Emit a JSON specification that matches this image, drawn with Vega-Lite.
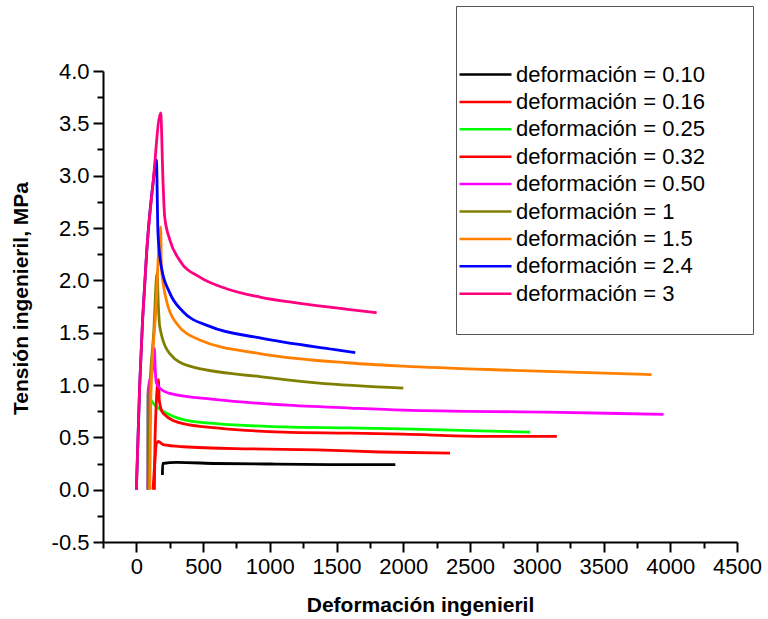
{
  "$schema": "https://vega.github.io/schema/vega-lite/v6.json",
  "width": 634,
  "height": 471,
  "autosize": {"type": "none"},
  "padding": {"left": 103, "top": 71, "right": 31, "bottom": 77},
  "background": "white",
  "config": {
    "view": {"stroke": null},
    "font": "Liberation Sans"
  },
  "data": {
    "values": [
      {"s": "deformación = 0.10", "x": 195, "y": 0.14},
      {"s": "deformación = 0.10", "x": 197, "y": 0.25},
      {"s": "deformación = 0.10", "x": 300, "y": 0.26},
      {"s": "deformación = 0.10", "x": 600, "y": 0.25},
      {"s": "deformación = 0.10", "x": 1000, "y": 0.245},
      {"s": "deformación = 0.10", "x": 1500, "y": 0.24},
      {"s": "deformación = 0.10", "x": 1940, "y": 0.24},

      {"s": "deformación = 0.16", "x": 125, "y": 0.0},
      {"s": "deformación = 0.16", "x": 140, "y": 0.3},
      {"s": "deformación = 0.16", "x": 150, "y": 0.44},
      {"s": "deformación = 0.16", "x": 165, "y": 0.46},
      {"s": "deformación = 0.16", "x": 200, "y": 0.43},
      {"s": "deformación = 0.16", "x": 350, "y": 0.41},
      {"s": "deformación = 0.16", "x": 850, "y": 0.39},
      {"s": "deformación = 0.16", "x": 1350, "y": 0.38},
      {"s": "deformación = 0.16", "x": 1825, "y": 0.36},
      {"s": "deformación = 0.16", "x": 2350, "y": 0.35},

      {"s": "deformación = 0.25", "x": 85, "y": 0.0},
      {"s": "deformación = 0.25", "x": 87, "y": 0.92},
      {"s": "deformación = 0.25", "x": 100, "y": 0.88},
      {"s": "deformación = 0.25", "x": 130, "y": 0.82},
      {"s": "deformación = 0.25", "x": 200, "y": 0.75},
      {"s": "deformación = 0.25", "x": 350, "y": 0.67},
      {"s": "deformación = 0.25", "x": 600, "y": 0.63},
      {"s": "deformación = 0.25", "x": 1100, "y": 0.6},
      {"s": "deformación = 0.25", "x": 1600, "y": 0.59},
      {"s": "deformación = 0.25", "x": 2000, "y": 0.58},
      {"s": "deformación = 0.25", "x": 2950, "y": 0.55},

      {"s": "deformación = 0.32", "x": 135, "y": 0.0},
      {"s": "deformación = 0.32", "x": 140, "y": 0.5},
      {"s": "deformación = 0.32", "x": 165, "y": 1.05},
      {"s": "deformación = 0.32", "x": 172, "y": 0.85},
      {"s": "deformación = 0.32", "x": 200, "y": 0.73},
      {"s": "deformación = 0.32", "x": 350, "y": 0.63},
      {"s": "deformación = 0.32", "x": 600, "y": 0.59},
      {"s": "deformación = 0.32", "x": 1100, "y": 0.55},
      {"s": "deformación = 0.32", "x": 1600, "y": 0.54},
      {"s": "deformación = 0.32", "x": 2000, "y": 0.53},
      {"s": "deformación = 0.32", "x": 2575, "y": 0.51},
      {"s": "deformación = 0.32", "x": 3150, "y": 0.51},

      {"s": "deformación = 0.50", "x": 86, "y": 0.0},
      {"s": "deformación = 0.50", "x": 88, "y": 0.94},
      {"s": "deformación = 0.50", "x": 125, "y": 1.2},
      {"s": "deformación = 0.50", "x": 135, "y": 1.35},
      {"s": "deformación = 0.50", "x": 140, "y": 1.18},
      {"s": "deformación = 0.50", "x": 150, "y": 1.02},
      {"s": "deformación = 0.50", "x": 175, "y": 0.97},
      {"s": "deformación = 0.50", "x": 250, "y": 0.92},
      {"s": "deformación = 0.50", "x": 600, "y": 0.86},
      {"s": "deformación = 0.50", "x": 1100, "y": 0.81},
      {"s": "deformación = 0.50", "x": 1600, "y": 0.78},
      {"s": "deformación = 0.50", "x": 2000, "y": 0.76},
      {"s": "deformación = 0.50", "x": 3075, "y": 0.74},
      {"s": "deformación = 0.50", "x": 3950, "y": 0.72},

      {"s": "deformación = 1", "x": 95, "y": 0.0},
      {"s": "deformación = 1", "x": 100, "y": 0.9},
      {"s": "deformación = 1", "x": 130, "y": 1.5},
      {"s": "deformación = 1", "x": 155, "y": 2.07},
      {"s": "deformación = 1", "x": 165, "y": 1.75},
      {"s": "deformación = 1", "x": 175, "y": 1.56},
      {"s": "deformación = 1", "x": 250, "y": 1.3},
      {"s": "deformación = 1", "x": 400, "y": 1.18},
      {"s": "deformación = 1", "x": 925, "y": 1.08},
      {"s": "deformación = 1", "x": 1350, "y": 1.02},
      {"s": "deformación = 1", "x": 2000, "y": 0.97},

      {"s": "deformación = 1.5", "x": 100, "y": 0.0},
      {"s": "deformación = 1.5", "x": 108, "y": 0.86},
      {"s": "deformación = 1.5", "x": 145, "y": 1.7},
      {"s": "deformación = 1.5", "x": 182, "y": 2.51},
      {"s": "deformación = 1.5", "x": 187, "y": 2.13},
      {"s": "deformación = 1.5", "x": 225, "y": 1.81},
      {"s": "deformación = 1.5", "x": 300, "y": 1.59},
      {"s": "deformación = 1.5", "x": 475, "y": 1.43},
      {"s": "deformación = 1.5", "x": 925, "y": 1.3},
      {"s": "deformación = 1.5", "x": 1600, "y": 1.21},
      {"s": "deformación = 1.5", "x": 2000, "y": 1.18},
      {"s": "deformación = 1.5", "x": 2825, "y": 1.14},
      {"s": "deformación = 1.5", "x": 3860, "y": 1.1},

      {"s": "deformación = 2.4", "x": 0, "y": 0.0},
      {"s": "deformación = 2.4", "x": 25, "y": 1.0},
      {"s": "deformación = 2.4", "x": 80, "y": 2.32},
      {"s": "deformación = 2.4", "x": 125, "y": 2.93},
      {"s": "deformación = 2.4", "x": 150, "y": 3.15},
      {"s": "deformación = 2.4", "x": 162, "y": 2.45},
      {"s": "deformación = 2.4", "x": 187, "y": 2.13},
      {"s": "deformación = 2.4", "x": 250, "y": 1.88},
      {"s": "deformación = 2.4", "x": 350, "y": 1.7},
      {"s": "deformación = 2.4", "x": 550, "y": 1.56},
      {"s": "deformación = 2.4", "x": 925, "y": 1.45},
      {"s": "deformación = 2.4", "x": 1475, "y": 1.34},
      {"s": "deformación = 2.4", "x": 1640, "y": 1.31},

      {"s": "deformación = 3", "x": 0, "y": 0.0},
      {"s": "deformación = 3", "x": 25, "y": 1.0},
      {"s": "deformación = 3", "x": 80, "y": 2.32},
      {"s": "deformación = 3", "x": 125, "y": 2.93},
      {"s": "deformación = 3", "x": 182, "y": 3.6},
      {"s": "deformación = 3", "x": 200, "y": 2.93},
      {"s": "deformación = 3", "x": 212, "y": 2.61},
      {"s": "deformación = 3", "x": 250, "y": 2.39},
      {"s": "deformación = 3", "x": 325, "y": 2.19},
      {"s": "deformación = 3", "x": 475, "y": 2.03},
      {"s": "deformación = 3", "x": 675, "y": 1.92},
      {"s": "deformación = 3", "x": 925, "y": 1.84},
      {"s": "deformación = 3", "x": 1225, "y": 1.78},
      {"s": "deformación = 3", "x": 1600, "y": 1.72},
      {"s": "deformación = 3", "x": 1800, "y": 1.69}
    ]
  },
  "mark": {"type": "line", "strokeWidth": 2.8, "interpolate": "monotone"},
  "encoding": {
    "x": {
      "field": "x",
      "type": "quantitative",
      "scale": {"domain": [-250, 4500], "nice": false, "zero": false},
      "axis": {
        "title": "Deformación ingenieril",
        "titleFont": "Liberation Sans",
        "titleFontWeight": "bold",
        "titleFontSize": 21,
        "titleColor": "black",
        "titleBaseline": "top",
        "titleY": 52,
        "values": [-250, 0, 250, 500, 750, 1000, 1250, 1500, 1750, 2000, 2250, 2500, 2750, 3000, 3250, 3500, 3750, 4000, 4250, 4500],
        "labelExpr": "datum.value % 500 == 0 ? format(datum.value, 'd') : ''",
        "labelFontSize": 22,
        "labelColor": "black",
        "labelPadding": 4,
        "labelFlush": false,
        "labelOverlap": false,
        "grid": false,
        "domainColor": "black",
        "domainWidth": 2,
        "tickColor": "black",
        "tickWidth": 2,
        "tickSize": {"condition": {"test": "datum.value % 500 == 0", "value": 10}, "value": 6}
      }
    },
    "y": {
      "field": "y",
      "type": "quantitative",
      "scale": {"domain": [-0.5, 4.0], "nice": false, "zero": false},
      "axis": {
        "title": "Tensión ingenieril, MPa",
        "titleFont": "Liberation Sans",
        "titleFontWeight": "bold",
        "titleFontSize": 21,
        "titleColor": "black",
        "titleX": -72,
        "titleY": 227,
        "values": [-0.5, -0.25, 0, 0.25, 0.5, 0.75, 1, 1.25, 1.5, 1.75, 2, 2.25, 2.5, 2.75, 3, 3.25, 3.5, 3.75, 4],
        "labelExpr": "(datum.value * 2) % 1 == 0 ? (datum.value < 0 ? '-' + format(-datum.value, '.1f') : format(datum.value, '.1f')) : ''",
        "labelFontSize": 22,
        "labelColor": "black",
        "labelPadding": 4,
        "labelFlush": false,
        "labelOverlap": false,
        "grid": false,
        "domainColor": "black",
        "domainWidth": 2,
        "tickColor": "black",
        "tickWidth": 2,
        "tickSize": {"condition": {"test": "(datum.value * 2) % 1 == 0", "value": 10}, "value": 6}
      }
    },
    "color": {
      "field": "s",
      "type": "nominal",
      "scale": {
        "domain": ["deformación = 0.10", "deformación = 0.16", "deformación = 0.25", "deformación = 0.32", "deformación = 0.50", "deformación = 1", "deformación = 1.5", "deformación = 2.4", "deformación = 3"],
        "range": ["#000000", "#ff0000", "#00ff00", "#ff0000", "#ff00ff", "#808000", "#ff8000", "#0000ff", "#ff0080"]
      },
      "legend": {
        "orient": "none",
        "legendX": 353,
        "legendY": -65,
        "title": "\u200b\u00a0\u00a0\u00a0\u00a0\u00a0\u00a0\u00a0\u00a0\u00a0\u00a0\u00a0\u00a0\u00a0\u00a0\u00a0\u00a0\u00a0\u00a0\u00a0\u00a0\u00a0\u00a0\u00a0\u00a0\u00a0\u00a0\u00a0\u00a0\u00a0\u00a0\u00a0\u00a0\u00a0\u00a0\u00a0\u00a0\u00a0\u00a0\u00a0\u200b",
        "titleFontSize": 22,
        "titleLimit": 400,
        "titlePadding": 6,
        "padding": 29,
        "strokeColor": "#555555",
        "fillColor": "white",
        "symbolType": "M-2.6,0H2.6",
        "symbolSize": 400,
        "symbolStrokeWidth": 2.5,
        "symbolOffset": -11,
        "labelOffset": 19,
        "labelFontSize": 22,
        "labelColor": "black",
        "labelLimit": 400,
        "rowPadding": 4.4
      }
    }
  }
}
